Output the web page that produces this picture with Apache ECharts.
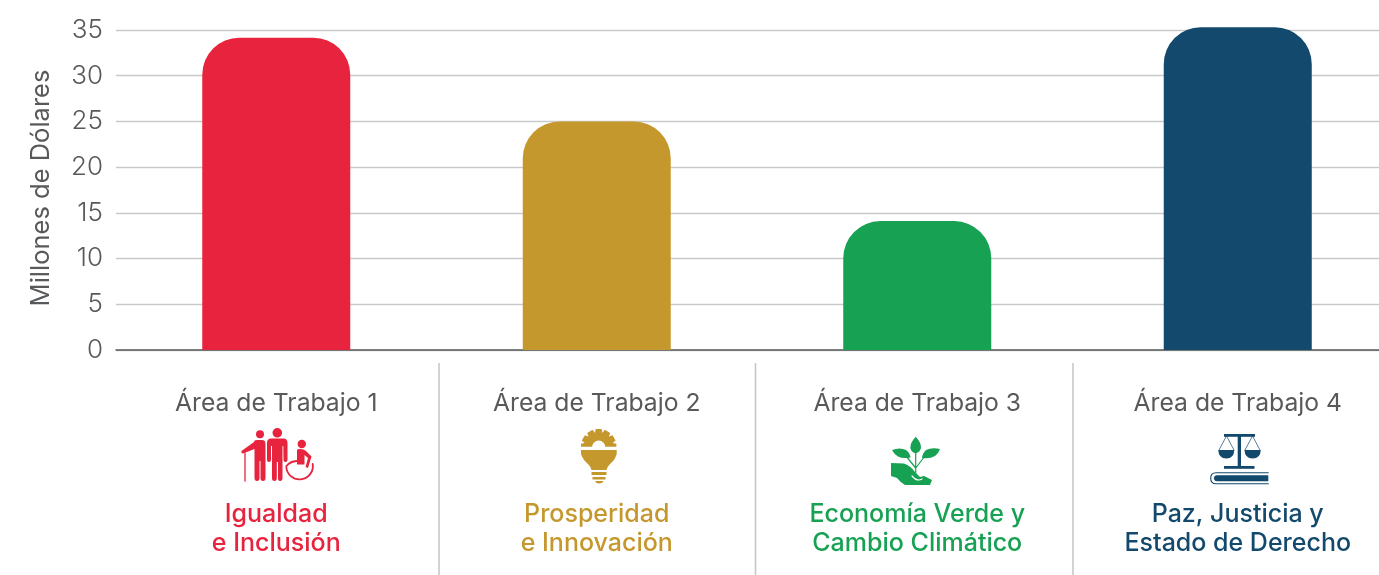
<!DOCTYPE html>
<html>
<head>
<meta charset="utf-8">
<title>Millones de Dólares por Área de Trabajo</title>
<script src="https://cdn.jsdelivr.net/npm/echarts@6/dist/echarts.min.js"></script>
<style>
html, body { margin: 0; padding: 0; background: #fff; }
#chart { width: 1379px; height: 575px; }
</style>
</head>
<body>
<div id="chart"></div>
<script>
const areas = ['Área de Trabajo 1', 'Área de Trabajo 2', 'Área de Trabajo 3', 'Área de Trabajo 4']
const themes = [
    ['Igualdad', 'e Inclusión'],
    ['Prosperidad', 'e Innovación'],
    ['Economía Verde y', 'Cambio Climático'],
    ['Paz, Justicia y', 'Estado de Derecho']
]
const amounts = [34.15, 25, 14.1, 35.3]
const colors = ['#E8233E', '#C5982E', '#16A153', '#13496C']
const gray = '#58595B'
const fontName = 'Inter'

// icons are decoration, not data, so they are drawn straight on the page
let shapeCount = 0
function circle (cx, cy, r, fill) {
    return { type: 'circle', shape: { cx: cx, cy: cy, r: r }, style: { fill: fill }, silent: true }
}
function path (d, fill, stroke, lineWidth) {
    const name = 'iconPart' + (shapeCount++)
    echarts.graphic.registerShape(name, echarts.graphic.extendPath(d, {}))
    return {
        type: name,
        style: { fill: fill || 'none', stroke: stroke || 'none', lineWidth: lineWidth || 0, lineCap: 'round' },
        silent: true
    }
}
function gearPath (cx, cy, r1, r2, n) {
    let d = ''
    for (let i = 0; i <= n; i++) {
        const a = Math.PI - Math.PI * i / n
        const w = 0.17
        const pts = [[r1, a + w * 1.5], [r2, a + w], [r2, a - w], [r1, a - w * 1.5]]
        pts.forEach((p) => {
            const x = (cx + p[0] * Math.cos(p[1])).toFixed(1)
            const y = Math.min(cy, cy - p[0] * Math.sin(p[1])).toFixed(1)
            d += (d ? 'L' : 'M') + x + ' ' + y
        })
    }
    return d + 'Z'
}

const red = colors[0], gold = colors[1], green = colors[2], navy = colors[3]
const icons = [
    // personas
    circle(260, 434.3, 4, red),
    path('M254 442 Q254 440 257 440 L262 440 Q265.5 440 265.5 444 L265.5 478 Q265.5 481 263 481 Q260.5 481 260.5 478 L260.5 461 L259.5 461 L259.5 478 Q259.5 481 257 481 Q254.5 481 254.5 478 L254.5 449 L243 453.5 Q241 453.5 241.5 451 Z', red),
    path('M245 453 L245 481', null, red, 1.3),
    circle(277.3, 432.8, 4.8, red),
    path('M267 443 Q267 438.5 271 438.5 L283.5 438.5 Q287.5 438.5 287.5 443 L287.5 460 Q287.5 462 285.5 462 Q283.5 462 283.5 460 L283.3 446 L282.5 446 L282.5 478 Q282.5 481 280 481 Q278 481 278 478 L278 462 L276.8 462 L276.8 478 Q276.8 481 274.3 481 Q272 481 272 478 L272 446 L271 446 L271 460 Q271 462 269 462 Q267 462 267 460 Z', red),
    circle(301.8, 444, 4.2, red),
    path('M297 450 Q297 449 300 449 Q304 449 306 451 L311.5 456.5 L308 468 L305.5 467 L308 458 L304.5 455 L304.5 464.5 L297 464.5 Z', red),
    path('M286.3 467 A13.3 13.3 0 1 0 312.7 464', null, red, 1.8),
    path('M286.5 466 Q290 461.5 296.5 461', null, red, 1.8),

    // bombilla con engranaje
    path(gearPath(598.7, 446.7, 14.5, 18, 6), gold),
    circle(598.7, 447, 6.5, '#fff'),
    path('M581 450 L616.7 450 L616.7 454 Q615 460 610 464 Q607 467 606.5 470 L591.5 470 Q591 467 588 464 Q583 460 581 454 Z', gold),
    path('M591.5 472 L606.5 472 L606.5 475 L591.5 475 Z', gold),
    path('M592.5 477 L605.5 477 L605.5 479.5 L592.5 479.5 Z', gold),
    path('M595 481 L603.5 481 Q602.5 483.5 599 483.5 Q596 483.5 595 481 Z', gold),

    // planta en la mano
    path('M915.7 436.7 Q921.5 443 921 448 Q920 452 915.7 453.5 Q911 452 910.3 448 Q910 443 915.7 436.7 Z', green),
    path('M892 450 Q900 447 906 450 Q910 453 910.5 457.5 Q903 459 898 456.5 Q894 454 892 450 Z', green),
    path('M940 449 Q932 447 926 450 Q922.5 453 922 458 Q930 459 935 456 Q938.5 453.5 940 449 Z', green),
    path('M915.7 452 L915.7 476 M915.7 468 L906 456 M915.7 468 L925 456', null, green, 1.2),
    path('M891 463 L904 463.5 Q911 466 915 472 L920 477 L924 476 L932 480 L930 485 L905 485 Q900 482 897 478 L891 476 Z', green),
    path('M912 476 Q917 482 922 479', null, '#fff', 1.2),

    // balanza y libro
    path('M1224 434 L1255 434 L1255 436.8 L1224 436.8 Z', navy),
    path('M1237.7 434 L1241 434 L1241 468 L1237.7 468 Z', navy),
    path('M1224 466 L1254.5 466 L1254.5 468.8 L1224 468.8 Z', navy),
    path('M1226.5 436 L1219 450 M1226.5 436 L1234 450 M1252.5 436 L1245 450 M1252.5 436 L1260 450', null, navy, 0.7),
    path('M1218.3 450 L1234.3 450 Q1234 458.5 1226.3 458.5 Q1218.5 458.5 1218.3 450 Z', navy),
    path('M1244.5 450 L1260.7 450 Q1260.5 458.5 1252.6 458.5 Q1244.8 458.5 1244.5 450 Z', navy),
    path('M1268.3 472.8 L1216 472.8 Q1210.7 472.8 1210.7 478.3 Q1210.7 483.8 1216 483.8 L1268.3 483.8', null, navy, 1.1),
    path('M1217 475.3 L1268.3 475.3 L1268.3 481.3 L1217 481.3 Q1214 481.3 1214 478.3 Q1214 475.3 1217 475.3 Z', navy)
]

const dividers = [439, 755.5, 1073].map((x) => ({
    type: 'line',
    shape: { x1: x, y1: 363, x2: x, y2: 575 },
    style: { stroke: '#C6C7C9', lineWidth: 1.6 },
    silent: true
}))

const richStyles = {
    title: { fontFamily: fontName, fontSize: 24.7, color: gray, lineHeight: 30 },
    gap: { height: 81, lineHeight: 81, fontSize: 1 }
}
colors.forEach((c, i) => {
    richStyles['theme' + i] = { fontFamily: fontName, fontSize: 25, fontWeight: 500, color: c, lineHeight: 29 }
})

const chart = echarts.init(document.getElementById('chart'), null, { renderer: 'canvas' })
chart.setOption({
    animation: false,
    backgroundColor: '#fff',
    textStyle: { fontFamily: fontName },
    grid: { left: 116, top: 30, width: 1282, height: 320, outerBoundsMode: 'none' },
    xAxis: {
        type: 'category',
        data: areas,
        axisLine: { lineStyle: { color: gray, width: 1.5 } },
        axisTick: { show: false },
        axisLabel: {
            interval: 0,
            margin: 39,
            align: 'center',
            formatter: function (value, i) {
                return '{title|' + value + '}\n{gap| }\n{theme' + i + '|' + themes[i][0] + '}\n{theme' + i + '|' + themes[i][1] + '}'
            },
            rich: richStyles
        }
    },
    yAxis: {
        type: 'value',
        min: 0,
        max: 35,
        interval: 5,
        name: 'Millones de Dólares',
        nameLocation: 'middle',
        nameGap: 62,
        nameRotate: 90,
        nameTextStyle: { fontFamily: fontName, fontSize: 25.5, color: gray, padding: [0, 0, 0, 4] },
        axisLine: { show: false },
        axisTick: { show: false },
        axisLabel: { fontFamily: fontName, fontSize: 26, fontWeight: 300, color: gray, margin: 13 },
        splitLine: { lineStyle: { color: '#C8C9CB', width: 1.4 } }
    },
    series: [{
        type: 'bar',
        barWidth: 148,
        clip: false,
        data: amounts.map((v, i) => ({ value: v, itemStyle: { color: colors[i] } })),
        itemStyle: { borderRadius: [37, 37, 0, 0] }
    }],
    graphic: { elements: dividers.concat(icons) }
})
</script>
</body>
</html>
